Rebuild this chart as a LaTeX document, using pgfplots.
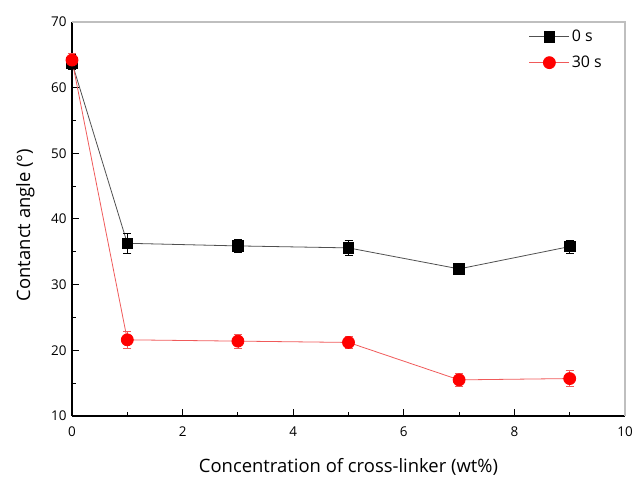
\documentclass[border=0pt]{standalone}
\usepackage{pgfplots}
\pgfplotsset{compat=1.18}
\usepackage{fontspec}
\setmainfont{Open Sans}
\definecolor{lred}{RGB}{240,90,90}
\definecolor{dgray}{RGB}{80,80,80}
\begin{document}
\begin{tikzpicture}
\begin{axis}[
  scale only axis,
  width=553bp, height=394bp,
  xmin=0, xmax=10, ymin=10, ymax=70,
  xtick={0,2,4,6,8,10}, ytick={10,20,30,40,50,60,70},
  minor x tick num=1, minor y tick num=1,
  axis lines=left,
  x axis line style={-}, y axis line style={-},
  axis line style={line width=1.1pt, black},
  tick align=inside,
  major tick length=7bp, minor tick length=4bp,
  every tick/.style={black, line width=1pt},
  tick label style={font=\fontsize{13.5}{16}\selectfont},
  xticklabel style={yshift=-7bp},
  yticklabel style={xshift=-2bp},
  /pgf/number format/assume math mode=true,
  xlabel={Concentration of cross-linker (wt\%)},
  ylabel={Contanct angle (°)},
  label style={font=\fontsize{18.5}{22}\selectfont},
  xlabel style={at={(axis description cs:0.5,0)}, anchor=base, yshift=-57bp},
  ylabel style={at={(axis description cs:-0.0759,0.485)}, anchor=base, rotate=0},
  legend style={draw=none, fill=none, at={(axis description cs:0.826,0.985)}, anchor=north west,
    font=\fontsize{16}{19}\selectfont, row sep=9bp, inner sep=0pt},
  legend cell align=left,
  legend image code/.code={
    \draw[#1, mark=none] (0bp,0bp) -- (40bp,0bp);
    \draw[#1, only marks] plot coordinates {(20bp,0bp)};
  },
  clip=false,
]
\addplot[dgray, line width=0.8pt, mark=square*, mark size=5.3bp,
  mark options={black, fill=black, solid},
  error bars/.cd, y dir=both, y explicit,
  error bar style={black, line width=0.7pt}, error mark options={rotate=90, mark size=4bp, black, line width=0.7pt}]
  coordinates {
  (0,63.8) +- (0,1.0)
  (1,36.3) +- (0,1.5)
  (3,35.9) +- (0,1.0)
  (5,35.6) +- (0,1.1)
  (7,32.4) +- (0,0.8)
  (9,35.8) +- (0,1.0)
  };
\addlegendentry{0 s}
\addplot[lred, line width=0.8pt, mark=*, mark size=6bp,
  mark options={red, fill=red, solid},
  error bars/.cd, y dir=both, y explicit,
  error bar style={lred, line width=0.7pt}, error mark options={rotate=90, mark size=4bp, lred, line width=0.7pt}]
  coordinates {
  (0,64.2) +- (0,1.0)
  (1,21.6) +- (0,1.3)
  (3,21.4) +- (0,1.1)
  (5,21.2) +- (0,0.9)
  (7,15.5) +- (0,1.0)
  (9,15.7) +- (0,1.2)
  };
\addlegendentry{30 s}
\draw[gray!50, line width=1.2pt] (rel axis cs:0,1) -- (rel axis cs:1,1) -- (rel axis cs:1,0);
\coordinate (ll) at (rel axis cs:0,0);
\coordinate (ur) at (rel axis cs:1,1);
\end{axis}
\pgfresetboundingbox
\path ([shift={(-72bp,-62bp)}]ll) rectangle ([shift={(12bp,22bp)}]ur);
\end{tikzpicture}
\end{document}
